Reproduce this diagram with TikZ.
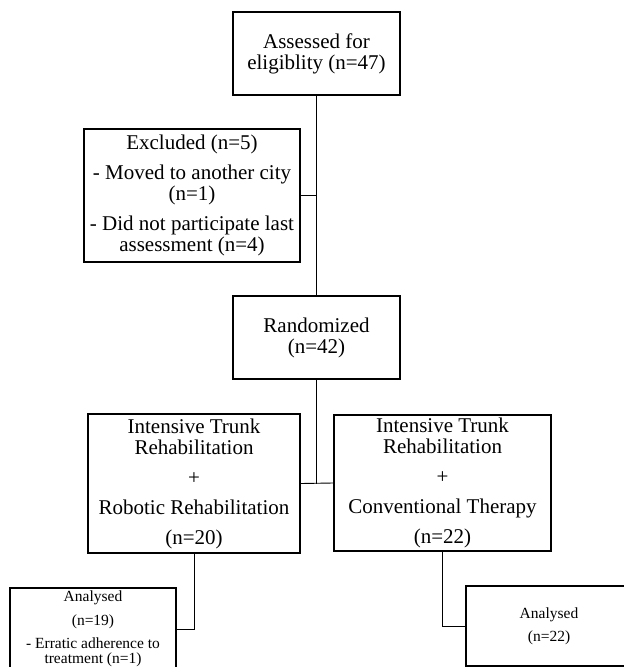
\documentclass[tikz,border=0pt]{standalone}
\usepackage{fontspec}
\setmainfont{Liberation Serif}
\begin{document}
\begin{tikzpicture}[x=1pt,y=-1pt,
  box/.style={draw, line width=1.5pt, inner sep=0pt, align=center,
    font=\fontsize{21}{21}\selectfont},
  smallbox/.style={draw, line width=1.5pt, inner sep=0pt, align=center,
    font=\fontsize{15.5}{15}\selectfont},
  conn/.style={line width=0.9pt}]
\useasboundingbox (0,0) rectangle (624,667);
\clip (0,0) rectangle (624,667);
\node[box, minimum width=167pt, minimum height=83pt] (assess) at (316.5,53.5)
  {Assessed for\\eligiblity (n=47)};
\node[box, minimum width=216pt, minimum height=133pt] (excl) at (192,195.5)
  {Excluded (n=5)\\[9pt]- Moved to another city\\(n=1)\\[9pt]- Did not participate last\\assessment (n=4)};
\node[box, minimum width=167pt, minimum height=83pt] (rand) at (316.5,337.5)
  {Randomized\\(n=42)};
\node[box, minimum width=212pt, minimum height=139pt] (left) at (194,483.5)
  {Intensive Trunk\\Rehabilitation\\[9pt]+\\[9pt]Robotic Rehabilitation\\[9pt](n=20)};
\node[box, minimum width=217pt, minimum height=136pt] (right) at (442.5,483)
  {Intensive Trunk\\Rehabilitation\\[9pt]+\\[9pt]Conventional Therapy\\[9pt](n=22)};
\node[smallbox, minimum width=166pt, minimum height=82pt] (la) at (93,629)
  {Analysed\\[8.5pt](n=19)\\[8.5pt]- Erratic adherence to\\treatment (n=1)};
\node[smallbox, minimum width=166pt, minimum height=80pt] (ra) at (549,626)
  {Analysed\\[8pt](n=22)};
\draw[conn] (assess.south) -- (rand.north);
\draw[conn] (excl.east) -- (excl.east -| assess.south);
\draw[conn] (rand.south) -- (rand.south |- left.east);
\draw[conn] (left.east) -- (right.west);
\draw[conn] (left.south) |- (la.east);
\draw[conn] (right.south) |- (ra.west);
\end{tikzpicture}
\end{document}
